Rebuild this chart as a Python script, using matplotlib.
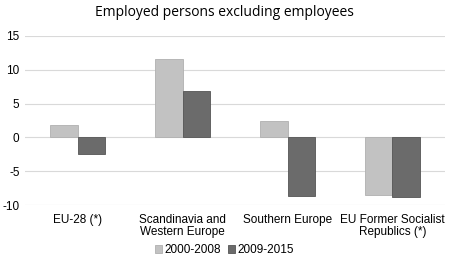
import matplotlib
matplotlib.use("Agg")
import matplotlib.pyplot as plt
import numpy as np

plt.rcParams['font.family'] = ['Liberation Sans', 'DejaVu Sans']

categories = ['EU-28 (*)', 'Scandinavia and\nWestern Europe', 'Southern Europe',
              'EU Former Socialist\nRepublics (*)']
series_names = ['2000-2008', '2009-2015']
v_2000_2008 = [1.8, 11.6, 2.4, -8.5]
v_2009_2015 = [-2.4, 6.8, -8.7, -8.8]
yticks = [-10, -5, 0, 5, 10, 15]

fig = plt.figure(figsize=(4.49, 2.63), dpi=100)
ax = fig.add_axes([0.056, 0.2205, 0.935, 0.643])

x = np.arange(len(categories))
w = 0.26
ax.bar(x - w/2, v_2000_2008, w, color='#c2c2c2', edgecolor='#b0b0b0', linewidth=0.6,
       label=series_names[0], zorder=3)
ax.bar(x + w/2, v_2009_2015, w, color='#6b6b6b', edgecolor='#555555', linewidth=0.6,
       label=series_names[1], zorder=3)

ax.set_xlim(-0.5, 3.5)
ax.set_ylim(-10, 15)
ax.set_yticks(yticks)
ax.set_yticklabels([str(t) for t in yticks], fontsize=8.5)
ax.yaxis.grid(True, color='#d9d9d9', linewidth=0.8, zorder=0)
ax.tick_params(axis='both', length=0, pad=4)
for s in ax.spines.values():
    s.set_visible(False)
ax.set_xticks([])
for i, c in enumerate(categories):
    ax.text(i, -11.3, c, ha='center', va='top', fontsize=8.5, linespacing=1.05)

fig.text(0.5, 1 - 13/263, 'Employed persons excluding employees', fontfamily='Open Sans',
         fontsize=10, ha='center', va='center')

fig.legend(loc='center', bbox_to_anchor=(0.5, 1 - 250/263), ncol=2, frameon=False,
           fontsize=8.5, handlelength=0.6, handleheight=0.6, handletextpad=0.2,
           columnspacing=0.6, borderpad=0)

fig.savefig('out.png', dpi=100)
